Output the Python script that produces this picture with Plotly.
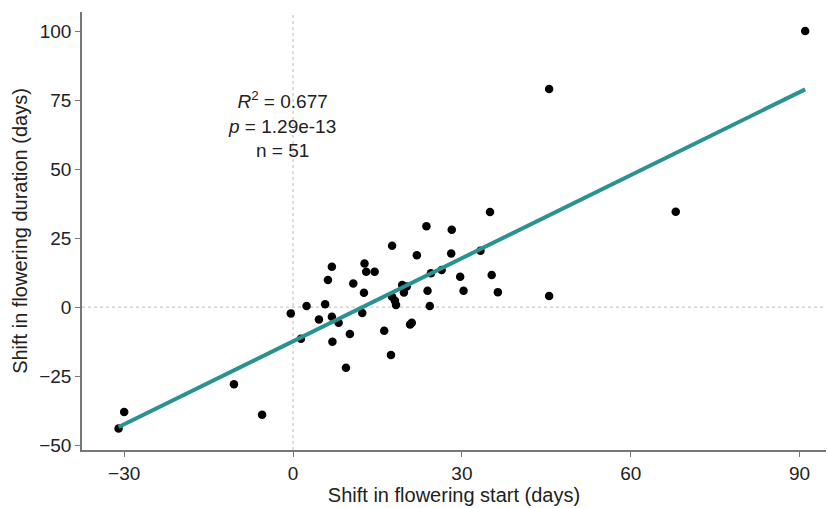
import numpy as np
import plotly.graph_objects as go

# Data
shift_start = [91, 45.5, 68, 45.5, -31, -30, -10.5, -5.5,
               -0.4, 2.4, 1.4, 4.6, 5.7, 6.2, 6.9, 6.9, 7.0, 8.1,
               9.4, 10.1, 10.7, 12.3, 12.6, 12.7, 13.0, 14.5, 16.2, 17.4,
               17.6, 17.6, 18.1, 18.3, 19.4, 19.7, 20.2, 20.8, 21.1, 22.0,
               23.7, 23.9, 24.3, 24.5, 26.4, 28.1, 28.2, 29.7, 30.3, 33.3,
               35.0, 35.3, 36.4]
shift_duration = [100, 79, 34.5, 4, -44, -38, -28, -39,
                  -2.3, 0.4, -11.5, -4.5, 1.0, 9.8, 14.6, -3.5, -12.6, -5.7,
                  -22.0, -9.8, 8.5, -2.2, 5.2, 15.8, 12.8, 12.8, -8.6, -17.4,
                  22.2, 3.7, 2.3, 0.7, 8.0, 5.3, 7.4, -6.3, -5.7, 18.8,
                  29.3, 5.9, 0.4, 12.2, 13.4, 19.4, 28.0, 11.0, 5.9, 20.4,
                  34.4, 11.6, 5.4]

fit_slope = 1.003
fit_intercept = -12.4

x_ticks = [-30, 0, 30, 60, 90]
y_ticks = [-50, -25, 0, 25, 50, 75, 100]

stats_text = "<i>R</i><sup>2</sup> = 0.677<br><i>p</i> = 1.29e-13<br>n = 51"

x_line = np.array([min(shift_start), max(shift_start)])
y_line = fit_intercept + fit_slope * x_line

fig = go.Figure()
fig.add_trace(go.Scatter(
    x=shift_start, y=shift_duration, mode="markers",
    marker=dict(color="black", size=8.5), showlegend=False))
fig.add_trace(go.Scatter(
    x=x_line, y=y_line, mode="lines",
    line=dict(color="#2a9290", width=4), showlegend=False))

fig.add_hline(y=0, line=dict(color="#d2c8c8", width=1.3, dash="dot"), layer="below")
fig.add_vline(x=0, line=dict(color="#d2c8c8", width=1.3, dash="dot"), layer="below")

fig.add_annotation(x=-2, y=66, xref="x", yref="y", text=stats_text,
                   showarrow=False, align="center",
                   font=dict(size=19, color="#222"))

axis_common = dict(showgrid=False, zeroline=False, showline=True,
                   linecolor="#777", linewidth=1.5, ticks="outside",
                   ticklen=5, tickcolor="#777", automargin=False,
                   tickfont=dict(size=19, color="#222"))

fig.update_xaxes(range=[-37.5, 94.7], tickvals=x_ticks,
                 title=dict(text="Shift in flowering start (days)",
                            font=dict(size=20, color="#222"), standoff=4),
                 **axis_common)
fig.update_yaxes(range=[-51.8, 106.9], tickvals=y_ticks,
                 title=dict(text="Shift in flowering duration (days)",
                            font=dict(size=20, color="#222"), standoff=6),
                 **axis_common)

fig.update_layout(
    width=828, height=508,
    margin=dict(l=82, r=2, t=12, b=58),
    plot_bgcolor="white", paper_bgcolor="white",
    font=dict(family="Liberation Sans, Arial, sans-serif"),
)

fig.write_html("out.html")
